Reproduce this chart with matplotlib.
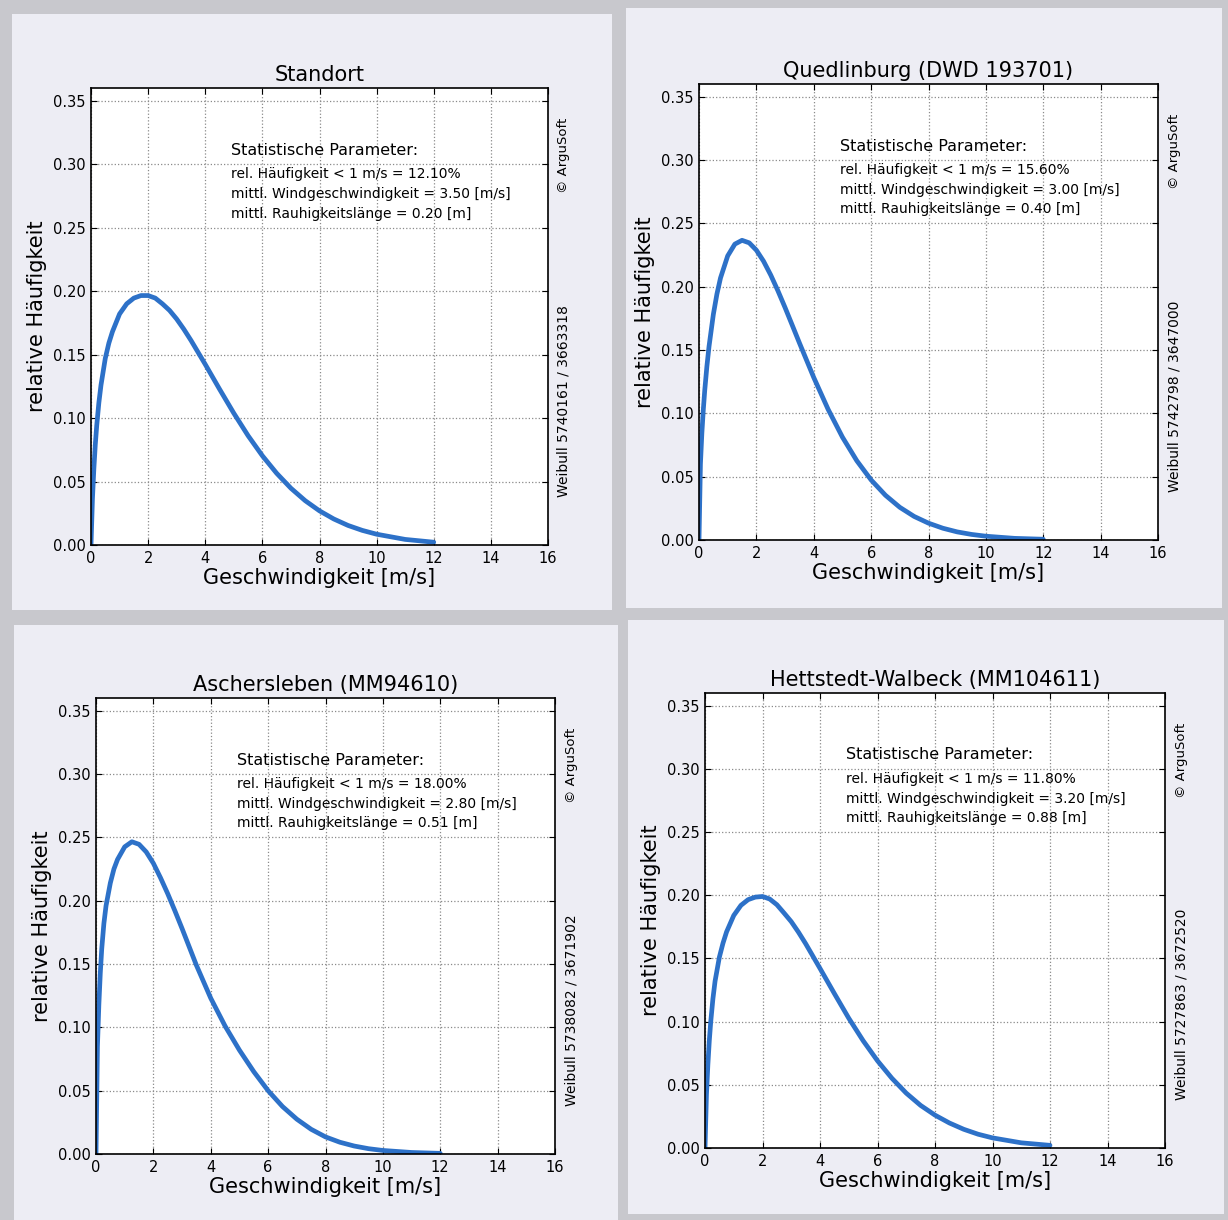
import matplotlib
matplotlib.use("Agg")
import matplotlib.pyplot as plt
from matplotlib.patches import Rectangle

W, H = 1228, 1220

speed = [0, 0.05, 0.1, 0.15, 0.2, 0.275, 0.35, 0.5, 0.625, 0.75, 1, 1.25, 1.5, 1.75,
         2, 2.25, 2.5, 2.75, 3, 3.25, 3.5, 4, 4.5, 5, 5.5, 6, 6.5, 7, 7.5, 8, 8.5,
         9, 9.5, 10, 11, 12]

standort = [0, 0.036, 0.060, 0.079, 0.094, 0.112, 0.126, 0.147, 0.159, 0.168, 0.182,
            0.190, 0.1945, 0.1965, 0.1965, 0.1945, 0.1900, 0.1848, 0.1780, 0.1700,
            0.1612, 0.1423, 0.1228, 0.1038, 0.0861, 0.0703, 0.0565, 0.0447, 0.0349,
            0.0269, 0.0205, 0.0154, 0.0115, 0.0085, 0.0044, 0.0022]
quedlinburg = [0, 0.0599, 0.0844, 0.1028, 0.1181, 0.1371, 0.1529, 0.1781, 0.1942,
               0.2069, 0.2243, 0.2336, 0.2366, 0.2346, 0.2288, 0.2201, 0.2092, 0.1968,
               0.1835, 0.1696, 0.1556, 0.1283, 0.1032, 0.0812, 0.0626, 0.0474, 0.0353,
               0.0258, 0.0186, 0.0133, 0.0093, 0.0064, 0.0044, 0.0030, 0.0013, 0.0006]
aschersleben = [0, 0.085, 0.118, 0.143, 0.162, 0.182, 0.196, 0.214, 0.225, 0.2325,
                0.2425, 0.2465, 0.2445, 0.2385, 0.2295, 0.218, 0.2055, 0.192, 0.178,
                0.1635, 0.149, 0.123, 0.101, 0.082, 0.065, 0.050, 0.0375, 0.0275,
                0.0195, 0.0135, 0.0093, 0.0063, 0.0042, 0.0028, 0.0012, 0.0005]
hettstedt = [0, 0.042, 0.066, 0.085, 0.100, 0.118, 0.132, 0.151, 0.162, 0.171, 0.184,
             0.192, 0.1965, 0.1985, 0.1990, 0.1970, 0.1925, 0.1859, 0.1791, 0.1708,
             0.1617, 0.1421, 0.1222, 0.1027, 0.0849, 0.0690, 0.0552, 0.0434, 0.0337,
             0.0260, 0.0198, 0.0148, 0.0109, 0.0080, 0.0041, 0.0021]

titles = ["Standort", "Quedlinburg (DWD 193701)",
          "Aschersleben (MM94610)", "Hettstedt-Walbeck (MM104611)"]
rel_calm = ["12.10%", "15.60%", "18.00%", "11.80%"]
mean_speed = ["3.50", "3.00", "2.80", "3.20"]
roughness = ["0.20", "0.40", "0.51", "0.88"]
weibull_ids = ["5740161 / 3663318", "5742798 / 3647000",
               "5738082 / 3671902", "5727863 / 3672520"]
curves = [standort, quedlinburg, aschersleben, hettstedt]

# pixel boxes: panel background and axes (left, top, right, bottom)
panels = [(12, 14, 612, 610), (626, 8, 1222, 608),
          (14, 625, 618, 1220), (628, 620, 1224, 1214)]
axes_px = [(91, 88, 548, 545), (699, 84, 1158, 540),
           (96, 698, 555, 1154), (705, 693, 1165, 1148)]

fig = plt.figure(figsize=(W / 100, H / 100), dpi=100)
fig.patch.set_facecolor("#c8c8cd")

for (l, t, r, b) in panels:
    fig.patches.append(Rectangle((l / W, 1 - b / H), (r - l) / W, (b - t) / H,
                                 transform=fig.transFigure, facecolor="#ededf4",
                                 edgecolor="none", zorder=-10))

for i in range(4):
    l, t, r, b = axes_px[i]
    ax = fig.add_axes([l / W, 1 - b / H, (r - l) / W, (b - t) / H])
    ax.plot(speed, curves[i], color="#2d71c8", linewidth=3.4,
            solid_joinstyle="round", solid_capstyle="round")
    ax.set_xlim(0, 16)
    ax.set_ylim(0, 0.36)
    ax.set_xticks(range(0, 17, 2))
    ax.set_yticks([0, 0.05, 0.10, 0.15, 0.20, 0.25, 0.30, 0.35])
    ax.set_yticklabels(["0.00", "0.05", "0.10", "0.15", "0.20", "0.25", "0.30", "0.35"])
    ax.tick_params(direction="in", top=True, right=True, length=4, labelsize=10.5, pad=4)
    ax.grid(True, linestyle=":", color="#8a8a8a", linewidth=0.9)
    for s in ax.spines.values():
        s.set_linewidth(1.2)
    ax.set_title(titles[i], fontsize=15, pad=5)
    ax.set_xlabel("Geschwindigkeit [m/s]", fontsize=15, labelpad=2)
    ax.set_ylabel("relative Häufigkeit", fontsize=15, labelpad=4)

    ax.text(4.9, 0.311, "Statistische Parameter:", fontsize=11.5, va="center")
    ax.text(4.9, 0.292, "rel. Häufigkeit < 1 m/s = " + rel_calm[i], fontsize=10, va="center")
    ax.text(4.9, 0.2765, "mittl. Windgeschwindigkeit = " + mean_speed[i] + " [m/s]",
            fontsize=10, va="center")
    ax.text(4.9, 0.261, "mittl. Rauhigkeitslänge = " + roughness[i] + " [m]",
            fontsize=10, va="center")

    ax.text(1.035, 0.935, "© ArguSoft", transform=ax.transAxes, rotation=90,
            fontsize=9.5, ha="center", va="top")
    ax.text(1.035, 0.105, "Weibull " + weibull_ids[i], transform=ax.transAxes,
            rotation=90, fontsize=10, ha="center", va="bottom")

fig.savefig("out.png", dpi=100, facecolor=fig.get_facecolor())
